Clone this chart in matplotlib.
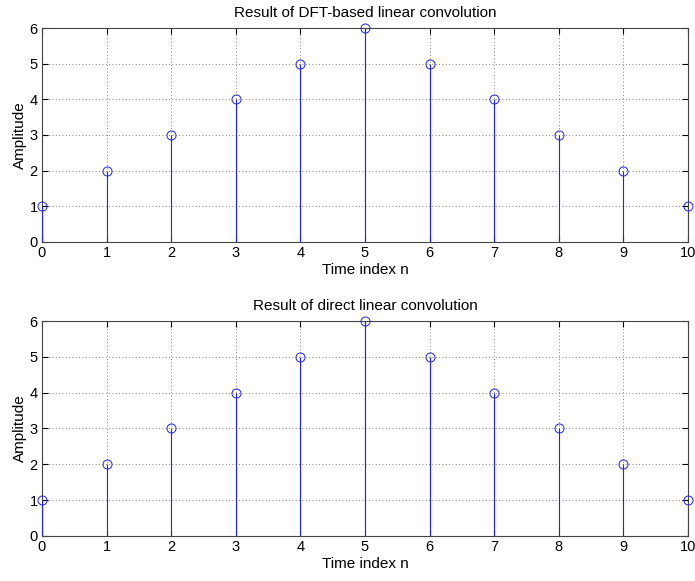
import matplotlib
matplotlib.use('Agg')
import matplotlib.pyplot as plt

n = list(range(11))
y_dft = [1, 2, 3, 4, 5, 6, 5, 4, 3, 2, 1]
y_direct = [1, 2, 3, 4, 5, 6, 5, 4, 3, 2, 1]

titles = ['Result of DFT-based linear convolution', 'Result of direct linear convolution']

plt.rcParams['font.family'] = ['Liberation Sans', 'DejaVu Sans']

fig = plt.figure(figsize=(6.95, 5.81), dpi=100)
positions = [[0.0604, 0.5835, 0.9296, 0.3683],
             [0.0604, 0.0775, 0.9296, 0.3700]]

for pos, y, title in zip(positions, [y_dft, y_direct], titles):
    ax = fig.add_axes(pos)
    ax.grid(True, linestyle=(0, (1, 3)), color='#555555', linewidth=0.6)
    ax.set_axisbelow(True)
    ax.vlines(n, 0, y, colors='#2020ff', linewidth=0.8, zorder=3)
    ax.plot(n, y, 'o', markerfacecolor='none', markeredgecolor='#2020ff',
            markersize=6.5, markeredgewidth=0.7, clip_on=False, zorder=4)
    ax.set_xlim(0, 10)
    ax.set_ylim(0, 6)
    ax.set_xticks(range(11))
    ax.set_yticks(range(7))
    ax.tick_params(direction='in', top=True, right=True, length=4,
                   labelsize=10.5, pad=3)
    for s in ax.spines.values():
        s.set_color('#444444')
    ax.set_title(title, fontsize=11, pad=8)
    ax.set_xlabel('Time index n', fontsize=11, labelpad=2)
    ax.set_ylabel('Amplitude', fontsize=11, labelpad=2)

fig.savefig('out.png', dpi=100)
